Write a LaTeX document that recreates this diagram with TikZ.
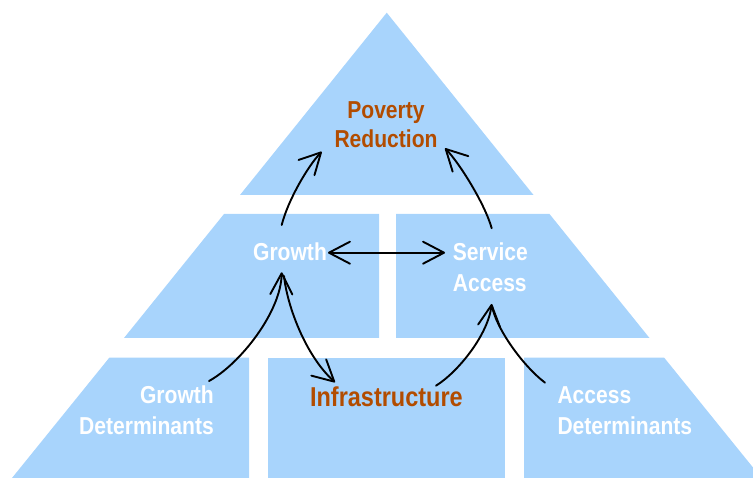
\documentclass[tikz,border=0pt]{standalone}
\usepackage{fontspec}
\newfontfamily\labelfont{Liberation Sans}[FakeStretch=0.86]
\usetikzlibrary{arrows.meta}
\definecolor{tierblue}{RGB}{168,212,252}
\definecolor{rustbrown}{RGB}{178,76,0}
\begin{document}
\begin{tikzpicture}[x=1pt,y=-1pt,
  tier/.style={fill=tierblue,draw=none},
  lbl/.style={inner sep=0pt,font=\labelfont\bfseries\fontsize{24.5}{31}\selectfont},
  whitelbl/.style={lbl,text=white},
  brownlbl/.style={lbl,text=rustbrown},
  flow/.style={line width=1.9pt,black,line cap=round,line join=round},
  barb/.tip={Straight Barb[length=21pt,width=22pt,line cap=round,line join=round]},
  head/.style={-barb},
]
\useasboundingbox (0,0) rectangle (753,478);
\clip (0,0) rectangle (753,478);

% pyramid tiers
\fill[tier] (240,195) -- (386.75,12.7) -- (533.5,195) -- cycle;
\fill[tier] (124,338) -- (224,214) -- (379,214) -- (379,338) -- cycle;
\fill[tier] (396,338) -- (396,214) -- (549.5,214) -- (649.5,338) -- cycle;
\fill[tier] (12,478) -- (109.3,357.7) -- (249,357.7) -- (249,478) -- cycle;
\fill[tier] (268,357.7) rectangle (505,478);
\fill[tier] (524,478) -- (524,357.7) -- (664.2,357.7) -- (761.5,478) -- cycle;

% labels
\node[brownlbl,anchor=base] (poverty) at (386,118.3) {Poverty};
\node[brownlbl,anchor=base] (reduction) at (386,147.7) {Reduction};
\node[whitelbl,anchor=base] (growth) at (290,260.7) {Growth};
\node[whitelbl,anchor=base west] (service) at (452.7,260.7) {Service};
\node[whitelbl,anchor=base west] (access) at (452.7,291.7) {Access};
\node[whitelbl,anchor=base east] (gdet1) at (214,404) {Growth};
\node[whitelbl,anchor=base east] (gdet2) at (214,435) {Determinants};
\node[whitelbl,anchor=base west] (adet1) at (557.3,404) {Access};
\node[whitelbl,anchor=base west] (adet2) at (557.3,435) {Determinants};
\node[brownlbl,anchor=base,font=\labelfont\bfseries\fontsize{27.3}{32}\selectfont] (infra) at (386.4,406.7) {Infrastructure};

% connector ends
\coordinate (growthTop) at (281.7,225);
\coordinate (povLeft) at (321.7,151.7);
\coordinate (serviceTop) at (491.7,228.3);
\coordinate (povRight) at (445,148.3);
\coordinate (growthEast) at (328,252.7);
\coordinate (serviceWest) at (445,252.7);
\coordinate (gdetEnd) at (209,381);
\coordinate (growthFoot) at (281.7,272.3);
\coordinate (growthFootB) at (284,276);
\coordinate (infraIn) at (335,382.3);
\coordinate (infraOut) at (436,385.7);
\coordinate (serviceFoot) at (491.7,304);
\coordinate (serviceFootB) at (492,306);
\coordinate (adetEnd) at (545,382.7);

% connectors
\draw[flow,head] (growthTop) .. controls (288,200) and (308,166) .. (povLeft);
\draw[flow,head] (serviceTop) .. controls (485,204) and (459,162.4) .. (povRight);
\draw[flow,barb-barb] (growthEast) -- (serviceWest);
\draw[flow,head] (gdetEnd) .. controls (240,364) and (281,312) .. (growthFoot);
\draw[flow,head] (growthFootB) .. controls (287,305) and (305,355) .. (infraIn);
\draw[flow,head] (infraOut) .. controls (458,372) and (488,335) .. (serviceFoot);
\draw[flow] (serviceFootB) .. controls (496,328) and (522,365) .. (adetEnd);
\end{tikzpicture}
\end{document}
